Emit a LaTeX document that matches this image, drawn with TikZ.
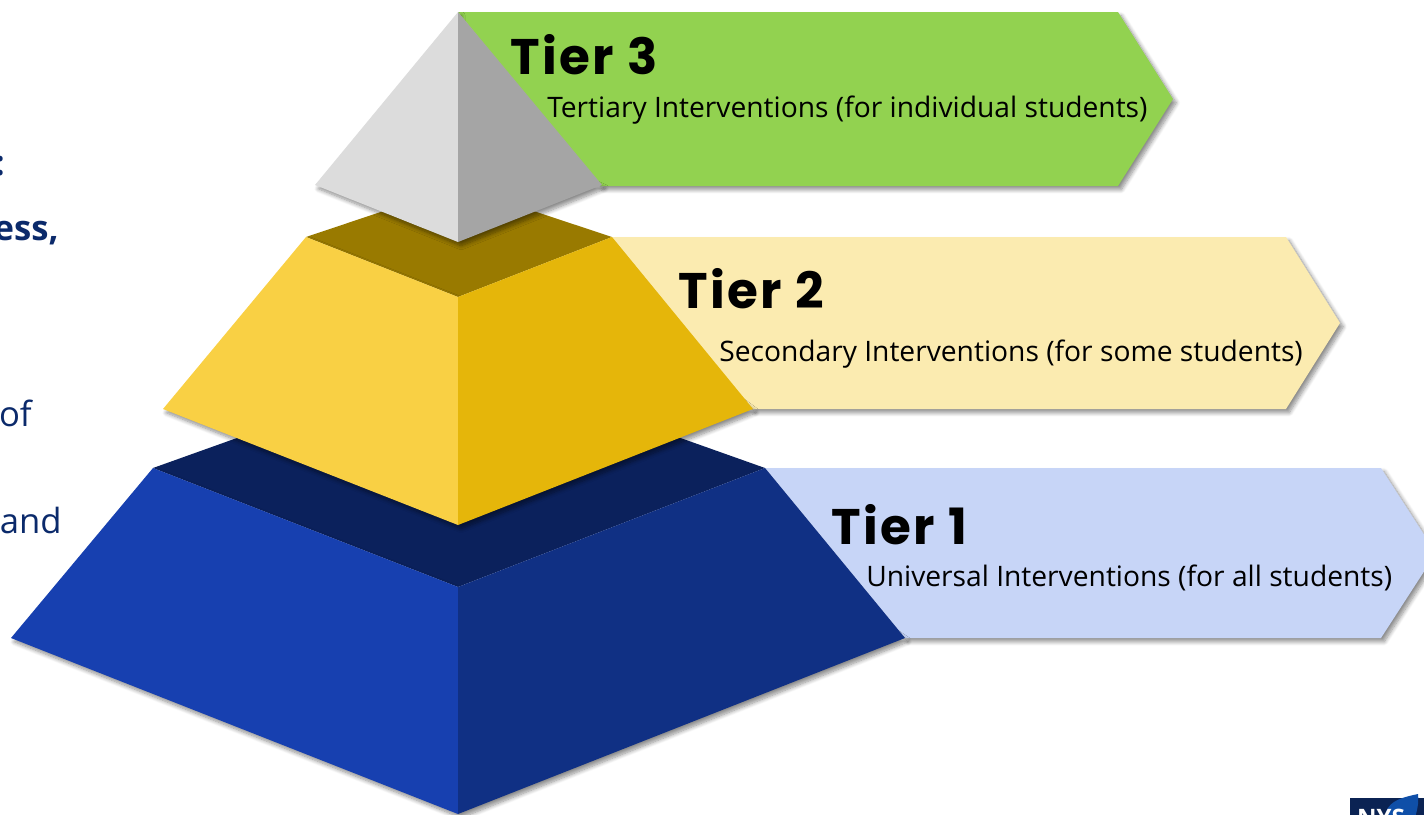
\documentclass[tikz,border=0pt]{standalone}
\usepackage{fontspec}
\setmainfont{Open Sans}
\newfontfamily\tierfont[LetterSpace=5]{Poppins}
\usetikzlibrary{shadows.blur}
\definecolor{navytext}{HTML}{0B2A6B}
\definecolor{tgreen}{HTML}{92D250}
\definecolor{tcream}{HTML}{FBEBB0}
\definecolor{tblue}{HTML}{C7D5F7}
\definecolor{greyL}{HTML}{DCDCDC}
\definecolor{greyR}{HTML}{A5A5A5}
\definecolor{brownT}{HTML}{997A00}
\definecolor{yellowL}{HTML}{F9D044}
\definecolor{yellowR}{HTML}{E5B60A}
\definecolor{navyT}{HTML}{0B215C}
\definecolor{blueL}{HTML}{1740B0}
\definecolor{blueR}{HTML}{103084}
\definecolor{logobg}{HTML}{0B2353}
\definecolor{logoleaf}{HTML}{0F4FA8}
\tikzset{
  softshadow/.style={blur shadow={shadow xshift=2.4pt,shadow yshift=-2.8pt,shadow blur radius=3pt,shadow blur steps=8,shadow opacity=45}},
  tiertitle/.style={anchor=base west,inner sep=0pt,font=\tierfont\bfseries\fontsize{37.5pt}{40pt}\selectfont,text=black},
  tiertext/.style={anchor=base west,inner sep=0pt,font=\fontsize{21.15pt}{25pt}\selectfont,text=black},
  cuttext/.style={anchor=base east,inner sep=0pt,font=\fontsize{26pt}{30pt}\selectfont,text=navytext},
  cutbold/.style={cuttext,font=\bfseries\fontsize{26pt}{30pt}\selectfont}
}
\begin{document}
\begin{tikzpicture}[x=0.75pt,y=-0.75pt]
\useasboundingbox (0,0) rectangle (1424,814);
\begin{scope}
\clip (0,0) rectangle (1424,814);
% left text fragments
\node[cutbold] (frA) at (5,175) {:};
\node[cutbold] (frB) at (59,240) {ess,};
\node[cuttext] (frC) at (32,426) {of};
\node[cuttext] (frD) at (62,533) {and};
\node[cuttext] (frE) at (2,639) {l};
% chevrons
\fill[tgreen,softshadow] (458,12) -- (1118,12) -- (1173,99) -- (1118,186) -- (600,186) -- cycle;
\fill[tcream,softshadow] (612,237) -- (1286,237) -- (1340,323) -- (1286,409) -- (752,409) -- cycle;
\fill[tblue,softshadow] (765,468) -- (1381,468) -- (1436,553) -- (1381,638) -- (905,638) -- cycle;
% tier 1
\fill[navyT] (153,468) -- (458,359) -- (765,468) -- (458,587) -- cycle;
\fill[black,opacity=0,softshadow] (11,638) -- (153,468) -- (458,587) -- (700,500) -- (905,638) -- (458,814) -- cycle;
\fill[blueL] (153,468) -- (458,587) -- (458,814) -- (11,638) -- cycle;
\fill[blueR] (765,468) -- (458,587) -- (458,814) -- (905,638) -- cycle;
% tier 2
\fill[brownT] (306,237) -- (458,186) -- (612,237) -- (458,297) -- cycle;
\fill[black,opacity=0,softshadow] (163,409) -- (306,237) -- (458,297) -- (560,265) -- (753,409) -- (458,525) -- cycle;
\fill[yellowL] (306,237) -- (458,297) -- (458,525) -- (163,409) -- cycle;
\fill[yellowR] (612,237) -- (458,297) -- (458,525) -- (753,409) -- cycle;
% tier 3
\fill[black,opacity=0,softshadow] (315,185) -- (458,12) -- (458,120) -- (602,185) -- (458,242) -- cycle;
\fill[greyL] (458,12) -- (458,242) -- (315,185) -- cycle;
\fill[greyR] (458,12) -- (458,242) -- (602,185) -- cycle;
% labels
\node[tiertitle] (t3) at (510,74) {Tier 3};
\node[tiertext] (s3) at (547,117.7) {Tertiary Interventions (for individual students)};
\node[tiertitle] (t2) at (678,308) {Tier 2};
\node[tiertext] (s2) at (719,361.5) {Secondary Interventions (for some students)};
\node[tiertitle] (t1) at (831,544) {Tier 1};
\node[tiertext] (s1) at (866,586.5) {Universal Interventions (for all students)};
% logo
\fill[logobg] (1350,798) rectangle (1424,830);
\fill[logoleaf] (1386,812) .. controls (1390,800) and (1404,797) .. (1418,794) .. controls (1419,803) and (1417,812) .. (1414,820) -- (1386,820) -- cycle;
\node[anchor=base,inner sep=0pt,text=white,font=\bfseries\fontsize{18pt}{20pt}\selectfont] (nys) at (1381,826) {NYS};
\end{scope}
\end{tikzpicture}
\end{document}
